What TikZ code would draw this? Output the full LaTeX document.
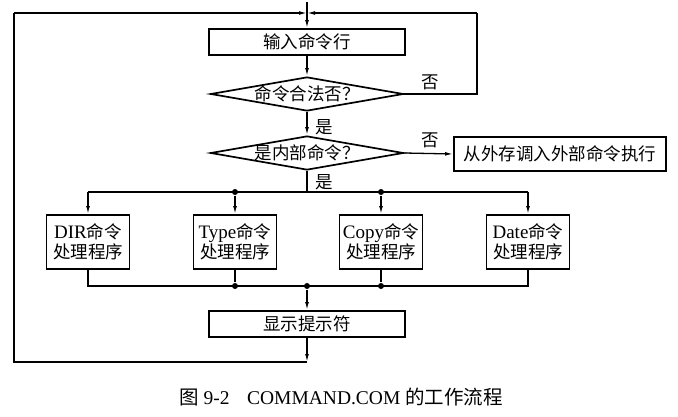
\documentclass[tikz,border=0pt]{standalone}
\usepackage{fontspec}
\setmainfont{Liberation Serif}
\newfontfamily\cjk{Noto Sans CJK SC}
\usetikzlibrary{shapes.geometric,arrows.meta}
\begin{document}
\begin{tikzpicture}[x=1pt,y=-1pt,
  line width=1.3pt,
  >={Latex[length=8pt,width=3.8pt]},
  box/.style={draw,line width=1.7pt,rectangle,inner sep=0pt,font=\fontsize{17.5}{20}\selectfont},
  dia/.style={draw,line width=1.7pt,diamond,inner sep=0pt,minimum width=193pt,minimum height=34pt},
  dtext/.style={font=\fontsize{17.5}{20}\selectfont\cjk},
  lbl/.style={font=\fontsize{17.5}{20}\selectfont\cjk,inner sep=0pt},
  dot/.style={circle,fill=black,inner sep=0pt,minimum size=6pt}]
\useasboundingbox (0,0) rectangle (678,417);
% nodes
\node[box,minimum width=196pt,minimum height=26pt] (in) at (307,42) {\cjk 输入命令行};
\node[dia] (d1) at (307,94) {};
\node[dtext] at (d1.center) {命令合法否？};
\node[dia] (d2) at (307,153) {};
\node[dtext] at (d2.center) {是内部命令？};
\node[box,minimum width=212pt,minimum height=34pt] (ext) at (560,154) {\cjk 从外存调入外部命令执行};
\node[box,minimum width=83pt,minimum height=54pt,align=center] (dir) at (88,242) {\fontsize{19}{20}\selectfont DIR{\cjk\fontsize{17.5}{20}\selectfont 命令}\\[0pt]{\cjk 处理程序}};
\node[box,minimum width=83pt,minimum height=54pt,align=center] (type) at (235,242) {\fontsize{19}{20}\selectfont Type{\cjk\fontsize{17.5}{20}\selectfont 命令}\\[0pt]{\cjk 处理程序}};
\node[box,minimum width=83pt,minimum height=54pt,align=center] (copy) at (381,242) {\fontsize{19}{20}\selectfont Copy{\cjk\fontsize{17.5}{20}\selectfont 命令}\\[0pt]{\cjk 处理程序}};
\node[box,minimum width=83pt,minimum height=54pt,align=center] (date) at (528,242) {\fontsize{19}{20}\selectfont Date{\cjk\fontsize{17.5}{20}\selectfont 命令}\\[0pt]{\cjk 处理程序}};
\node[box,minimum width=196pt,minimum height=26pt] (show) at (307,324) {\cjk 显示提示符};
% coordinates
\coordinate (top) at (307,2);
\coordinate (jt) at (307,13);
\coordinate (tl) at (14,13);
\coordinate (tr) at (477,13);
\coordinate (rr) at (477,94);
\coordinate (bl) at (14,362);
\coordinate (bm) at (307,362);
\coordinate (b0) at (88,192);
\coordinate (bm1) at (307,192);
\coordinate (b3) at (528,192);
\coordinate (m0) at (88,286);
\coordinate (m3) at (528,286);
\node[dot] (s1) at (235,192) {};
\node[dot] (s2) at (381,192) {};
\node[dot] (t1) at (235,286) {};
\node[dot] (t2) at (307,286) {};
\node[dot] (t3) at (381,286) {};
% connectors
\draw[->] (top) -- (in.north);
\draw[->] (in.south) -- (d1.north);
\draw[->] (d1.south) -- (d2.north);
\draw (d2.south) -- (bm1);
\draw (b0) -- (b3);
\draw[->] (b0) -- (dir.north);
\draw[->] (s1) -- (type.north);
\draw[->] (s2) -- (copy.north);
\draw[->] (b3) -- (date.north);
\draw (dir.south) -- (m0) -- (m3) -- (date.south);
\draw (type.south) -- (t1);
\draw (copy.south) -- (t3);
\draw[->] (t2) -- (show.north);
\draw[->] (show.south) -- (bm);
\draw (bm) -- (bl) -- (tl);
\draw[->] (tl) -- (jt);
\draw (d1.east) -- (rr) -- (tr);
\draw[->] (tr) -- (jt);
\draw[->] (d2.east) -- (ext.west);
% labels
\node[lbl] (y1) at (324,127) {是};
\node[lbl] (y2) at (324,182) {是};
\node[lbl] (n1) at (430,82) {否};
\node[lbl] (n2) at (430,140) {否};
\node[font=\fontsize{19.5}{22}\selectfont] (cap) at (341,397) {{\cjk 图} 9-2\hspace{0.9em}COMMAND.COM {\cjk 的工作流程}};
\end{tikzpicture}
\end{document}
